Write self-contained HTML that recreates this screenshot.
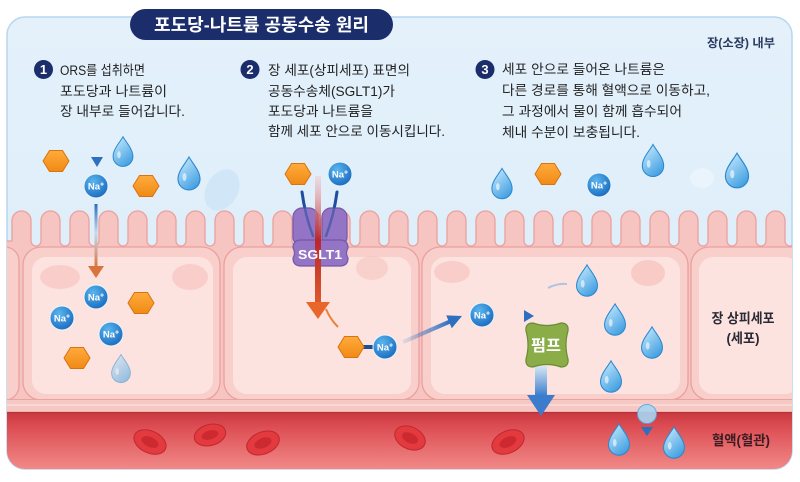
<!DOCTYPE html>
<html><head><meta charset="utf-8">
<style>
html,body{margin:0;padding:0;background:#fff;width:800px;height:482px;overflow:hidden}
svg{display:block}
text{font-family:"Liberation Sans","Noto Sans CJK KR",sans-serif}
</style></head>
<body>
<svg width="800" height="482" viewBox="0 0 800 482" xmlns="http://www.w3.org/2000/svg">
<defs>
  <clipPath id="panelClip"><rect x="7" y="17" width="785" height="452" rx="18"/></clipPath>
  <linearGradient id="bgG" x1="0" y1="0" x2="0" y2="1">
    <stop offset="0" stop-color="#e4f1fb"/><stop offset="1" stop-color="#d9ecf9"/>
  </linearGradient>
  <linearGradient id="bloodG" x1="0" y1="0" x2="0" y2="1">
    <stop offset="0" stop-color="#c9373f"/><stop offset="0.25" stop-color="#dc4d53"/><stop offset="1" stop-color="#f28a88"/>
  </linearGradient>
  <radialGradient id="naG" cx="0.38" cy="0.32" r="0.75">
    <stop offset="0" stop-color="#5ab6ee"/><stop offset="1" stop-color="#1767bd"/>
  </radialGradient>
  <linearGradient id="hexG" x1="0" y1="0" x2="0" y2="1">
    <stop offset="0" stop-color="#ffab3d"/><stop offset="1" stop-color="#f08a14"/>
  </linearGradient>
  <linearGradient id="dropG" x1="0.2" y1="0" x2="0.8" y2="1">
    <stop offset="0" stop-color="#c4e9fc"/><stop offset="1" stop-color="#3b9be0"/>
  </linearGradient>
  <linearGradient id="arr1G" x1="0" y1="0" x2="0" y2="1">
    <stop offset="0" stop-color="#2d6cc0"/><stop offset="0.45" stop-color="#c9d9ea"/><stop offset="1" stop-color="#d9743c"/>
  </linearGradient>
  <linearGradient id="redG" x1="0" y1="0" x2="0" y2="1">
    <stop offset="0" stop-color="#f3c0c0" stop-opacity="0.4"/><stop offset="0.5" stop-color="#b8272d"/><stop offset="1" stop-color="#dd5a2c"/>
  </linearGradient>
  <linearGradient id="pumpArrG" x1="0" y1="0" x2="0" y2="1">
    <stop offset="0" stop-color="#d6e6f4"/><stop offset="1" stop-color="#3a7dcc"/>
  </linearGradient>
  <linearGradient id="diagG" x1="0" y1="0" x2="1" y2="0">
    <stop offset="0" stop-color="#2f6fc0" stop-opacity="0.1"/><stop offset="1" stop-color="#2f6fc0"/>
  </linearGradient>
  <linearGradient id="vertBG" x1="0" y1="0" x2="0" y2="1">
    <stop offset="0" stop-color="#2f6fc0" stop-opacity="0.3"/><stop offset="1" stop-color="#2f6fc0"/>
  </linearGradient>
  <g id="drop">
    <path d="M0,-17 C4,-10 11,-3 11,5 A11,11 0 0 1 -11,5 C-11,-3 -4,-10 0,-17 Z" fill="url(#dropG)" stroke="#2a88cf" stroke-width="1.1"/>
    <ellipse cx="-4.5" cy="3" rx="2" ry="4" fill="#fff" opacity="0.6"/>
  </g>
  <g id="hex">
    <polygon points="-13,0 -6.5,-10.5 6.5,-10.5 13,0 6.5,10.5 -6.5,10.5" fill="url(#hexG)" stroke="#d9730f" stroke-width="1"/>
  </g>
  <g id="na">
    <circle r="12" fill="url(#naG)" stroke="#e8f4fc" stroke-width="1"/>
  </g>
</defs>

<!-- panel -->
<rect x="7" y="17" width="785" height="452" rx="18" fill="url(#bgG)" stroke="#b7d6ef" stroke-width="1.5"/>

<g clip-path="url(#panelClip)">
  <!-- faint blobs in lumen -->
  <ellipse cx="222" cy="190" rx="16" ry="22" fill="#cde5f7" opacity="0.8" transform="rotate(30 222 190)"/>
  <ellipse cx="702" cy="178" rx="12" ry="10" fill="#eaf4fc" opacity="0.9"/>

  <!-- villi band -->
  <path d="M0,400 L0,241 L12,241 v-20.5a9.5 9.5 0 0 1 19 0v20.5a5 5 0 0 0 10 0v-20.5a9.5 9.5 0 0 1 19 0v20.5a5 5 0 0 0 10 0v-20.5a9.5 9.5 0 0 1 19 0v20.5a5 5 0 0 0 10 0v-20.5a9.5 9.5 0 0 1 19 0v20.5a5 5 0 0 0 10 0v-20.5a9.5 9.5 0 0 1 19 0v20.5a5 5 0 0 0 10 0v-20.5a9.5 9.5 0 0 1 19 0v20.5a5 5 0 0 0 10 0v-20.5a9.5 9.5 0 0 1 19 0v20.5a5 5 0 0 0 10 0v-20.5a9.5 9.5 0 0 1 19 0v20.5a5 5 0 0 0 10 0v-20.5a9.5 9.5 0 0 1 19 0v20.5a5 5 0 0 0 10 0v-20.5a9.5 9.5 0 0 1 19 0v20.5a5 5 0 0 0 10 0v-20.5a9.5 9.5 0 0 1 19 0v20.5a5 5 0 0 0 10 0v-20.5a9.5 9.5 0 0 1 19 0v20.5a5 5 0 0 0 10 0v-20.5a9.5 9.5 0 0 1 19 0v20.5a5 5 0 0 0 10 0v-20.5a9.5 9.5 0 0 1 19 0v20.5a5 5 0 0 0 10 0v-20.5a9.5 9.5 0 0 1 19 0v20.5a5 5 0 0 0 10 0v-20.5a9.5 9.5 0 0 1 19 0v20.5a5 5 0 0 0 10 0v-20.5a9.5 9.5 0 0 1 19 0v20.5a5 5 0 0 0 10 0v-20.5a9.5 9.5 0 0 1 19 0v20.5a5 5 0 0 0 10 0v-20.5a9.5 9.5 0 0 1 19 0v20.5a5 5 0 0 0 10 0v-20.5a9.5 9.5 0 0 1 19 0v20.5a5 5 0 0 0 10 0v-20.5a9.5 9.5 0 0 1 19 0v20.5a5 5 0 0 0 10 0v-20.5a9.5 9.5 0 0 1 19 0v20.5a5 5 0 0 0 10 0v-20.5a9.5 9.5 0 0 1 19 0v20.5a5 5 0 0 0 10 0v-20.5a9.5 9.5 0 0 1 19 0v20.5a5 5 0 0 0 10 0v-20.5a9.5 9.5 0 0 1 19 0v20.5a5 5 0 0 0 10 0v-20.5a9.5 9.5 0 0 1 19 0v20.5a5 5 0 0 0 10 0v-20.5a9.5 9.5 0 0 1 19 0v20.5a5 5 0 0 0 10 0 L800,241 L800,400 Z" fill="#f7c5c1" stroke="#eba09f" stroke-width="1.3"/>

  <!-- cells -->
  <rect x="-12" y="247" width="31" height="153" rx="14" fill="#f9cfcb" stroke="#eaa09e" stroke-width="1.3"/>
  <rect x="23" y="247" width="197" height="153" rx="18" fill="#f9cfcb" stroke="#eaa09e" stroke-width="1.3"/>
  <rect x="32" y="257" width="181" height="137" rx="14" fill="#fde3df"/>
  <rect x="224" y="247" width="195" height="153" rx="18" fill="#f9cfcb" stroke="#eaa09e" stroke-width="1.3"/>
  <rect x="233" y="257" width="178" height="137" rx="14" fill="#fde3df"/>
  <rect x="422" y="247" width="266" height="153" rx="18" fill="#f9cfcb" stroke="#eaa09e" stroke-width="1.3"/>
  <rect x="431" y="257" width="249" height="137" rx="14" fill="#fde3df"/>
  <rect x="691" y="247" width="120" height="153" rx="18" fill="#f9cfcb" stroke="#eaa09e" stroke-width="1.3"/>
  <rect x="699" y="257" width="100" height="137" rx="14" fill="#fde3df"/>

  <!-- nuclei-like blobs -->
  <ellipse cx="60" cy="277" rx="20" ry="12" fill="#f6c4c0" opacity="0.7"/>
  <ellipse cx="190" cy="277" rx="18" ry="13" fill="#f6c4c0" opacity="0.7"/>
  <ellipse cx="372" cy="268" rx="16" ry="12" fill="#f6c4c0" opacity="0.6"/>
  <ellipse cx="452" cy="272" rx="18" ry="11" fill="#f6c4c0" opacity="0.7"/>
  <ellipse cx="648" cy="273" rx="17" ry="13" fill="#f6c4c0" opacity="0.8"/>

  <!-- basement -->
  <rect x="0" y="399" width="800" height="14" fill="#f6c8c4"/>
  <line x1="0" y1="399.5" x2="800" y2="399.5" stroke="#eba3a0" stroke-width="1"/>
  <line x1="0" y1="405" x2="800" y2="405" stroke="#fbdcd8" stroke-width="1.5"/>

  <!-- blood -->
  <rect x="0" y="412" width="800" height="58" fill="url(#bloodG)"/>
  <line x1="0" y1="412.5" x2="800" y2="412.5" stroke="#b83038" stroke-width="1.2"/>

  <!-- RBCs -->
  <g transform="rotate(25 150 442)"><ellipse cx="150" cy="442" rx="17" ry="11" fill="#e23a3e" stroke="#c0282e"/><ellipse cx="150" cy="442" rx="9" ry="5" fill="#c4262c" opacity="0.75"/></g>
  <g transform="rotate(-15 210 435)"><ellipse cx="210" cy="435" rx="16" ry="10.5" fill="#e23a3e" stroke="#c0282e"/><ellipse cx="210" cy="435" rx="8.5" ry="4.5" fill="#c4262c" opacity="0.75"/></g>
  <g transform="rotate(-22 263 443)"><ellipse cx="263" cy="443" rx="17" ry="11" fill="#e23a3e" stroke="#c0282e"/><ellipse cx="263" cy="443" rx="9" ry="5" fill="#c4262c" opacity="0.75"/></g>
  <g transform="rotate(25 410 438)"><ellipse cx="410" cy="438" rx="16" ry="11" fill="#e23a3e" stroke="#c0282e"/><ellipse cx="410" cy="438" rx="8.5" ry="5" fill="#c4262c" opacity="0.75"/></g>
  <g transform="rotate(-25 508 442)"><ellipse cx="508" cy="442" rx="17" ry="11" fill="#e23a3e" stroke="#c0282e"/><ellipse cx="508" cy="442" rx="9" ry="5" fill="#c4262c" opacity="0.75"/></g>
</g>

<!-- title -->
<rect x="130" y="9" width="263" height="31" rx="15.5" fill="#1b2d6b"/>
<text x="261.5" y="31" text-anchor="middle" font-size="17.5" font-weight="bold" fill="#fff" textLength="215" lengthAdjust="spacingAndGlyphs">포도당-나트륨 공동수송 원리</text>

<text x="775" y="47" text-anchor="end" font-size="12" font-weight="bold" fill="#2b3a5e" textLength="68" lengthAdjust="spacingAndGlyphs">장(소장) 내부</text>

<!-- step numbers -->
<circle cx="43.5" cy="69.5" r="9.5" fill="#1b2d6b"/>
<text x="43.5" y="74" text-anchor="middle" font-size="13" font-weight="bold" fill="#fff">1</text>
<circle cx="250" cy="69.5" r="9.5" fill="#1b2d6b"/>
<text x="250" y="74" text-anchor="middle" font-size="13" font-weight="bold" fill="#fff">2</text>
<circle cx="485" cy="69.5" r="9.5" fill="#1b2d6b"/>
<text x="485" y="74" text-anchor="middle" font-size="13" font-weight="bold" fill="#fff">3</text>

<!-- step texts -->
<g font-size="13.5" fill="#222">
  <text x="60" y="75" textLength="85" lengthAdjust="spacingAndGlyphs">ORS를 섭취하면</text>
  <text x="60" y="96" textLength="107" lengthAdjust="spacingAndGlyphs">포도당과 나트륨이</text>
  <text x="60" y="116" textLength="125" lengthAdjust="spacingAndGlyphs">장 내부로 들어갑니다.</text>

  <text x="268" y="75" textLength="142" lengthAdjust="spacingAndGlyphs">장 세포(상피세포) 표면의</text>
  <text x="268" y="96" textLength="127" lengthAdjust="spacingAndGlyphs">공동수송체(SGLT1)가</text>
  <text x="268" y="116" textLength="105" lengthAdjust="spacingAndGlyphs">포도당과 나트륨을</text>
  <text x="268" y="136" textLength="177" lengthAdjust="spacingAndGlyphs">함께 세포 안으로 이동시킵니다.</text>

  <text x="502" y="74" textLength="163" lengthAdjust="spacingAndGlyphs">세포 안으로 들어온 나트륨은</text>
  <text x="502" y="95" textLength="208" lengthAdjust="spacingAndGlyphs">다른 경로를 통해 혈액으로 이동하고,</text>
  <text x="502" y="116" textLength="180" lengthAdjust="spacingAndGlyphs">그 과정에서 물이 함께 흡수되어</text>
  <text x="502" y="137" textLength="138" lengthAdjust="spacingAndGlyphs">체내 수분이 보충됩니다.</text>
</g>

<!-- labels -->
<text x="743" y="323" text-anchor="middle" font-size="13.5" font-weight="bold" fill="#2a2a36" textLength="63" lengthAdjust="spacingAndGlyphs">장 상피세포</text>
<text x="743" y="343" text-anchor="middle" font-size="13.5" font-weight="bold" fill="#2a2a36" textLength="33" lengthAdjust="spacingAndGlyphs">(세포)</text>
<text x="741" y="445" text-anchor="middle" font-size="13.5" font-weight="bold" fill="#3a1c22" textLength="58" lengthAdjust="spacingAndGlyphs">혈액(혈관)</text>

<!-- step1 arrows -->
<line x1="97" y1="140" x2="97" y2="160" stroke="url(#vertBG)" stroke-width="3"/>
<polygon points="91,157 103,157 97,167" fill="#2f6fc0"/>
<rect x="94.5" y="204" width="3" height="64" fill="url(#arr1G)"/>
<polygon points="88,266 104,266 96,278" fill="#d9743c"/>

<!-- SGLT1 -->
<path d="M302,192 Q305,215 313,236" fill="none" stroke="#1f4e9e" stroke-width="3" stroke-linecap="round"/>
<path d="M337,192 Q334,215 326,236" fill="none" stroke="#1f4e9e" stroke-width="3" stroke-linecap="round"/>
<g fill="#9474c4" stroke="#7558a8" stroke-width="1.2">
  <rect x="293" y="208" width="25" height="38" rx="9"/>
  <rect x="322" y="208" width="25" height="38" rx="9"/>
  <path d="M301,240 L340,240 Q348,240 348,248 Q345,253 348,258 Q348,266 340,266 L301,266 Q293,266 293,258 Q296,253 293,248 Q293,240 301,240 Z"/>
</g>
<path d="M302,192 Q305,215 313,236" fill="none" stroke="#1f4e9e" stroke-width="2.5" stroke-linecap="round" opacity="0.55"/>
<path d="M337,192 Q334,215 326,236" fill="none" stroke="#1f4e9e" stroke-width="2.5" stroke-linecap="round" opacity="0.55"/>
<rect x="315" y="176" width="6" height="128" fill="url(#redG)"/>
<polygon points="306,302 330,302 318,319" fill="#e8662a"/>
<text x="320" y="259" text-anchor="middle" font-size="13" font-weight="bold" fill="#fff" textLength="44" lengthAdjust="spacingAndGlyphs">SGLT1</text>
<path d="M338,327 Q330,319 326,309" fill="none" stroke="#e8823a" stroke-width="2"/>

<!-- hex + Na bond -->
<rect x="362" y="345" width="12" height="4" fill="#1e4f8f"/>

<!-- diagonal arrow -->
<line x1="403" y1="342" x2="450" y2="321.5" stroke="url(#diagG)" stroke-width="4"/>
<polygon points="462,316 451.8,328.2 446.2,315.4" fill="#2f6fc0"/>
<!-- small arrow to pump -->
<line x1="505" y1="316" x2="525" y2="316" stroke="url(#diagG)" stroke-width="3.5"/>
<polygon points="524,310 534,316 524,322" fill="#2f6fc0"/>

<!-- pump -->
<rect x="535" y="366" width="12" height="30" fill="url(#pumpArrG)"/>
<polygon points="527,395 555,395 541,416" fill="#3b7dcc"/>
<path transform="translate(547 345)" d="M-14,-22 Q0,-17 14,-22 Q22,-22 21,-14 Q17,0 21,14 Q22,22 14,22 Q0,17 -14,22 Q-22,22 -21,14 Q-17,0 -21,-14 Q-22,-22 -14,-22 Z" fill="#8aad48" stroke="#6a8c32" stroke-width="1.2"/>
<text x="546" y="351" text-anchor="middle" font-size="16" font-weight="bold" fill="#fff" textLength="30" lengthAdjust="spacingAndGlyphs">펌프</text>

<!-- faint dash -->
<path d="M548,288 Q557,283 567,284" fill="none" stroke="#8cb8e0" stroke-width="2" opacity="0.7"/>

<!-- bubble arrow -->
<line x1="647" y1="378" x2="647" y2="428" stroke="url(#vertBG)" stroke-width="3"/>
<circle cx="647" cy="414" r="9.5" fill="#a9d6f3" stroke="#5aa6de" stroke-width="1" opacity="0.9"/>
<polygon points="641,427 653,427 647,436" fill="#2f6fc0"/>

<!-- hexagons -->
<use href="#hex" x="56" y="161"/>
<use href="#hex" x="146" y="186"/>
<use href="#hex" x="141" y="303"/>
<use href="#hex" x="77" y="358"/>
<use href="#hex" x="298" y="174"/>
<use href="#hex" x="351" y="347"/>
<use href="#hex" x="548" y="174"/>

<!-- drops -->
<g transform="translate(123 152) scale(0.9)"><use href="#drop"/></g>
<g transform="translate(189 174) scale(1)"><use href="#drop"/></g>
<g transform="translate(121 369) scale(0.85)" opacity="0.55"><use href="#drop"/></g>
<g transform="translate(502 184) scale(0.92)"><use href="#drop"/></g>
<g transform="translate(653 161) scale(0.97)"><use href="#drop"/></g>
<g transform="translate(737 171) scale(1.05)"><use href="#drop"/></g>
<g transform="translate(587 281) scale(0.95)"><use href="#drop"/></g>
<g transform="translate(615 320) scale(0.95)"><use href="#drop"/></g>
<g transform="translate(652 343) scale(0.95)"><use href="#drop"/></g>
<g transform="translate(611 377) scale(0.95)"><use href="#drop"/></g>
<g transform="translate(619 440) scale(0.95)"><use href="#drop"/></g>
<g transform="translate(674 443) scale(0.95)"><use href="#drop"/></g>

<!-- Na+ ions -->
<g font-size="9.5" font-weight="bold" fill="#fff" text-anchor="middle">
  <use href="#na" x="96" y="186"/><text x="96" y="189.5">Na<tspan font-size="7" dy="-3">+</tspan></text>
  <use href="#na" x="96" y="297"/><text x="96" y="300.5">Na<tspan font-size="7" dy="-3">+</tspan></text>
  <use href="#na" x="62" y="318"/><text x="62" y="321.5">Na<tspan font-size="7" dy="-3">+</tspan></text>
  <use href="#na" x="111" y="334"/><text x="111" y="337.5">Na<tspan font-size="7" dy="-3">+</tspan></text>
  <use href="#na" x="340" y="174"/><text x="340" y="177.5">Na<tspan font-size="7" dy="-3">+</tspan></text>
  <use href="#na" x="385" y="347"/><text x="385" y="350.5">Na<tspan font-size="7" dy="-3">+</tspan></text>
  <use href="#na" x="482" y="315"/><text x="482" y="318.5">Na<tspan font-size="7" dy="-3">+</tspan></text>
  <use href="#na" x="599" y="185"/><text x="599" y="188.5">Na<tspan font-size="7" dy="-3">+</tspan></text>
</g>
</svg>
</body></html>
